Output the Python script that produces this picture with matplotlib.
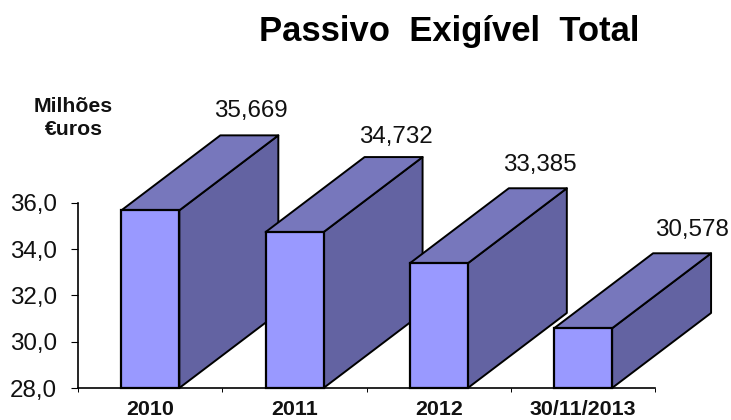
import matplotlib
matplotlib.use('Agg')
from matplotlib import pyplot as plt
import matplotlib.patches as patches

plt.rcParams['font.family'] = ['Liberation Sans', 'DejaVu Sans']

# values
categories = ['2010', '2011', '2012', '30/11/2013']
values = [35.669, 34.732, 33.385, 30.578]
value_labels = ['35,669', '34,732', '33,385', '30,578']
y_ticks = [28, 30, 32, 34, 36]
y_tick_labels = ['28,0', '30,0', '32,0', '34,0', '36,0']

W, H = 731, 420
FRONT = '#9999FF'
TOP = '#7777BC'
SIDE = '#6363A2'
EDGE = '#000000'

fig = plt.figure(figsize=(W / 100, H / 100), dpi=100)
# axes box in pixels: x 78-655, y 203-388
ax = fig.add_axes([78.2 / W, (H - 388) / H, 577 / W, 185.3 / H])
ax.set_xlim(0, 4)
ax.set_ylim(28, 36)

bar_w = 58 / 144.25
dx = 99 / 144.25      # depth of the fake 3d
dy = 75 / 23.16
base = 28

for i, v in enumerate(values):
	z = 3 + i
	x0 = i + 0.5 - bar_w / 2
	x1 = x0 + bar_w
	ax.add_patch(patches.Polygon([(x1, base), (x1 + dx, base + dy), (x1 + dx, v + dy), (x1, v)],
		facecolor=SIDE, edgecolor=EDGE, lw=1.4, zorder=z, clip_on=False, joinstyle='round'))
	ax.add_patch(patches.Polygon([(x0, v), (x0 + dx, v + dy), (x1 + dx, v + dy), (x1, v)],
		facecolor=TOP, edgecolor=EDGE, lw=1.4, zorder=z, clip_on=False, joinstyle='round'))
	ax.bar(i + 0.5, v - base, bar_w, bottom=base, color=FRONT, edgecolor=EDGE, lw=1.6, zorder=z, clip_on=False)

# value labels sit above the back of each bar, offsets in pixels
label_dx = [31, 31, 31, 39]
label_dy = [13, 9, 12, 12]
for i, v in enumerate(values):
	ax.annotate(value_labels[i], (i + 0.5 + dx - bar_w / 2, v + dy),
		xytext=(label_dx[i] * 0.72, label_dy[i] * 0.72),
		textcoords='offset points', ha='center', va='bottom', fontsize=17.4, color='#111111', zorder=10,
		annotation_clip=False)

for s in ['top', 'right']:
	ax.spines[s].set_visible(False)
for s in ['left', 'bottom']:
	ax.spines[s].set_linewidth(1.2)

ax.set_yticks(y_ticks)
ax.set_yticklabels(y_tick_labels, fontsize=17.4, color='#111111')
ax.tick_params(axis='y', length=5, width=0.8, pad=10.5)
ax.set_xticks([0, 1, 2, 3, 4])
ax.set_xticklabels([])
ax.tick_params(axis='x', which='major', length=3, width=0.7)
ax.set_xticks([0.5, 1.5, 2.5, 3.5], minor=True)
ax.set_xticklabels(categories, minor=True, fontsize=15.4, fontweight='bold', color='#111111')
ax.tick_params(axis='x', which='minor', length=0, pad=8.5)

fig.text(449 / W, 1 - 32 / H, 'Passivo  Exigível  Total', ha='center', va='center', fontsize=24.9, fontweight='bold', color='black')
fig.text(73.5 / W, 1 - 118 / H, 'Milhões\n€uros', ha='center', va='center', fontsize=15.3, fontweight='bold', color='#111111', linespacing=1.3)

fig.savefig('out.png', dpi=100)
